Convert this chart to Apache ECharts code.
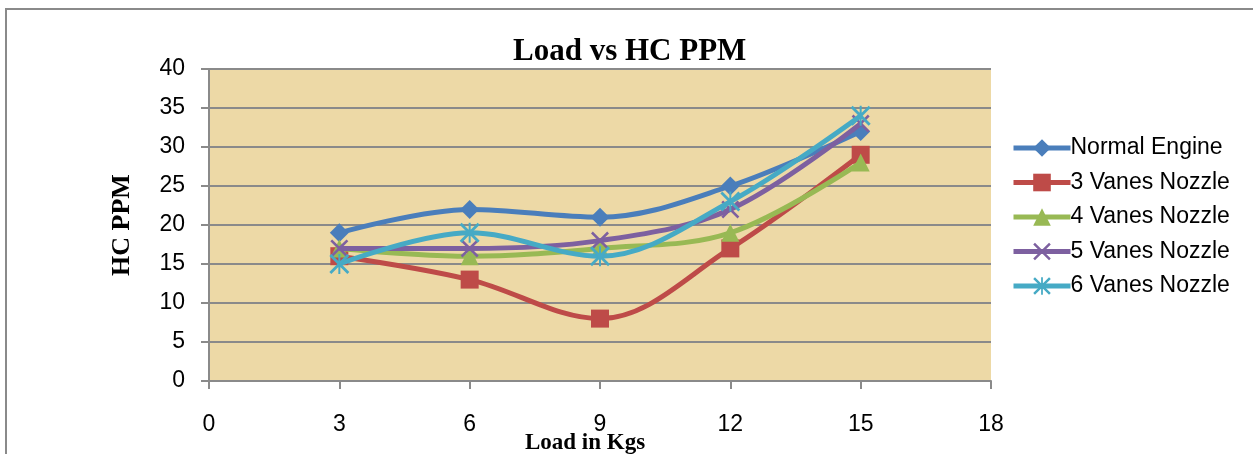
<!DOCTYPE html>
<html>
<head>
<meta charset="utf-8">
<script src="https://cdn.jsdelivr.net/npm/echarts@6/dist/echarts.min.js"></script>
<style>
html,body{margin:0;padding:0;background:#fff;}
#c{width:1253px;height:454px;}
</style>
</head>
<body>
<div id="c"></div>
<script>
const loads = [3, 6, 9, 12, 15];
const seriesNames = ['Normal Engine', '3 Vanes Nozzle', '4 Vanes Nozzle', '5 Vanes Nozzle', '6 Vanes Nozzle'];
const normalEngine = [19, 22, 21, 25, 32];
const vanes3 = [16, 13, 8, 17, 29];
const vanes4 = [17, 16, 17, 19, 28];
const vanes5 = [17, 17, 18, 22, 33];
const vanes6 = [15, 19, 16, 23, 34];
const xTicks = [0, 3, 6, 9, 12, 15, 18];

const colors = ['#4A7EBB', '#BE4B48', '#98B954', '#7D60A0', '#46AAC5'];
const crossPath = 'path://M2,0L10,8L18,0L20,2L12,10L20,18L18,20L10,12L2,20L0,18L8,10L0,2Z';
const starPath = 'path://M2,0L10,8L18,0L20,2L12,10L20,18L18,20L10,12L2,20L0,18L8,10L0,2Z M9,0L11,0L11,20L9,20Z';
const symbols = ['diamond', 'rect', 'triangle', crossPath, starPath];
const symbolSizes = [19, 18, 18, 18, 20];
const allValues = [normalEngine, vanes3, vanes4, vanes5, vanes6];

const chart = echarts.init(document.getElementById('c'), null, {renderer: 'canvas'});
const series = allValues.map((vals, i) => ({
  name: seriesNames[i],
  type: 'line',
  smooth: 0.35,
  data: loads.map((x, j) => [x, vals[j]]),
  symbol: symbols[i],
  symbolSize: symbolSizes[i],
  lineStyle: {color: colors[i], width: 5},
  itemStyle: {color: colors[i]},
  z: 2 + i
}));

chart.setOption({
  animation: false,
  graphic: [{
    type: 'rect', z: -10,
    shape: {x: 6, y: 9, width: 1400, height: 600},
    style: {fill: 'none', stroke: '#8a8a8a', lineWidth: 2}
  }],
  title: {
    text: 'Load vs HC PPM',
    left: 508, top: 31,
    textStyle: {fontFamily: 'Liberation Serif, Times New Roman, serif', fontWeight: 'bold', fontSize: 31, color: '#000'}
  },
  legend: {
    orient: 'vertical',
    left: 1006, top: 131,
    itemWidth: 57, itemHeight: 22,
    itemGap: 10.5,
    data: seriesNames,
    lineStyle: {width: 5},
    textStyle: {fontFamily: 'Liberation Sans, Arial, sans-serif', fontSize: 23, color: '#000', lineHeight: 24, padding: [0,0,0,-5]}
  },
  grid: {
    left: 209, right: 262, top: 69, bottom: 73,
    outerBoundsMode: 'none', containLabel: false,
    show: true, backgroundColor: '#EDD9A6', borderWidth: 0
  },
  xAxis: {
    type: 'value', min: 0, max: 18, interval: 3,
    name: 'Load in Kgs', nameLocation: 'middle', nameGap: 51, nameMoveOverlap: false,
    nameTextStyle: {fontFamily: 'Liberation Serif, Times New Roman, serif', fontWeight: 'bold', fontSize: 23, color: '#000', padding: [0, 30, 0, 0]},
    axisLine: {show: true, lineStyle: {color: '#8a8a8a', width: 2}},
    axisTick: {show: true, length: 8, lineStyle: {color: '#8a8a8a', width: 2}},
    axisLabel: {fontFamily: 'Liberation Sans, Arial, sans-serif', fontSize: 23, color: '#000', margin: 32,
      formatter: v => xTicks.includes(v) ? String(v) : ''},
    splitLine: {show: false}
  },
  yAxis: {
    type: 'value', min: 0, max: 40, interval: 5,
    name: 'HC PPM', nameLocation: 'middle', nameGap: 74, nameRotate: 90, nameMoveOverlap: false,
    nameTextStyle: {fontFamily: 'Liberation Serif, Times New Roman, serif', fontWeight: 'bold', fontSize: 26, color: '#000'},
    axisLine: {show: true, lineStyle: {color: '#8a8a8a', width: 2}},
    axisTick: {show: true, length: 8, lineStyle: {color: '#8a8a8a', width: 2}},
    axisLabel: {fontFamily: 'Liberation Sans, Arial, sans-serif', fontSize: 23, color: '#000', margin: 24},
    splitLine: {show: true, lineStyle: {color: '#8a8a8a', width: 2}}
  },
  series: series
});
</script>
</body>
</html>
